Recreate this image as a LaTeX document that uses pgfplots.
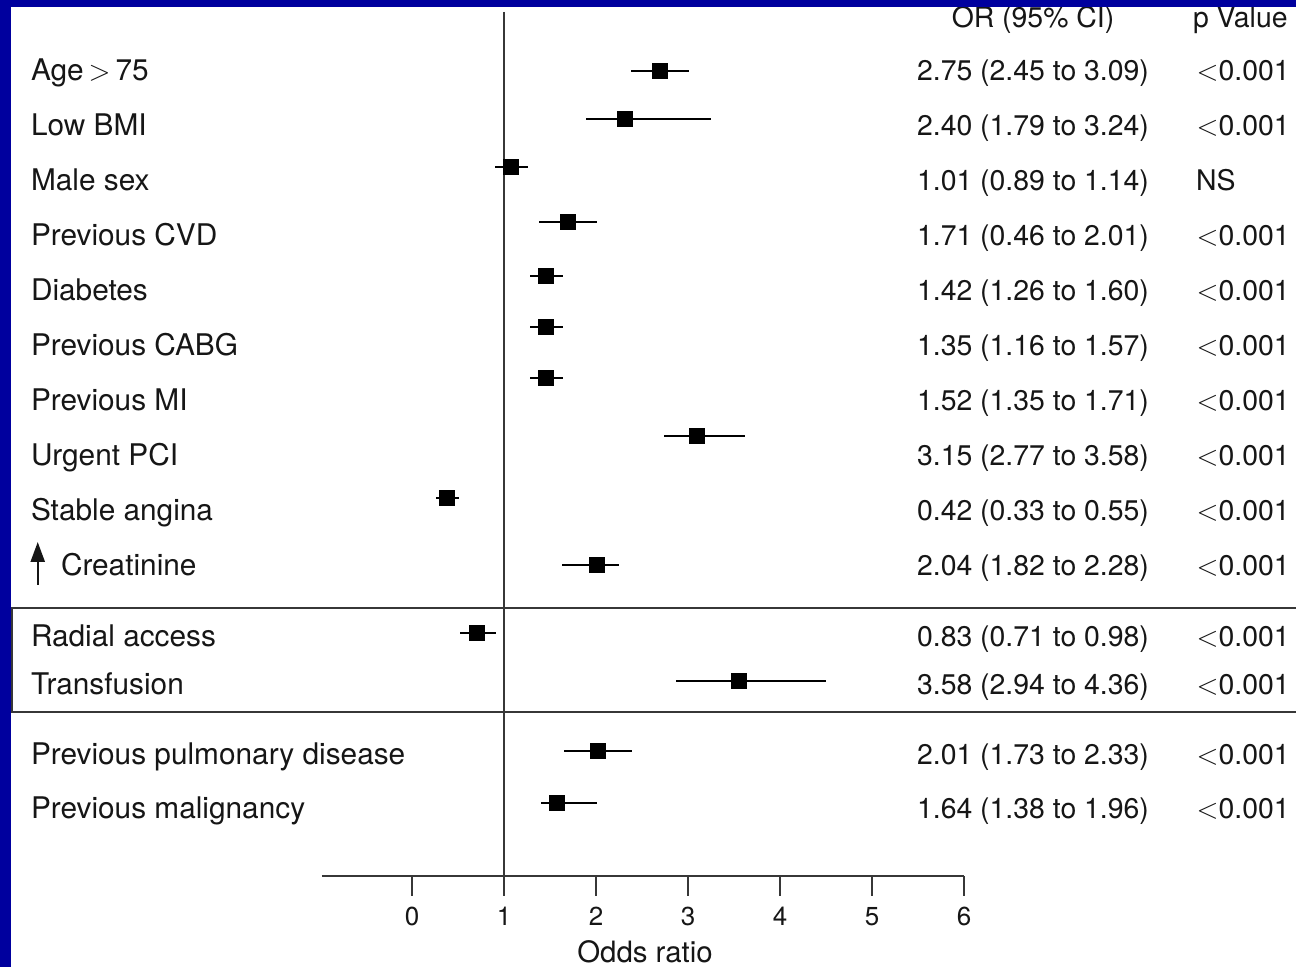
\documentclass[border=0pt]{standalone}
\usepackage{fontspec}
\setmainfont{TeX Gyre Heros}
\usepackage{pgfplots}
\usepackage{pgfplotstable}
\pgfplotsset{compat=1.18}
\usetikzlibrary{arrows.meta}
\definecolor{bgblue}{RGB}{0,0,158}
\definecolor{ink}{RGB}{22,22,22}
\definecolor{axisgray}{RGB}{55,55,55}
\newcommand{\lbl}{\fontsize{14.9}{17}\selectfont}
\newcommand{\num}{\fontsize{14.2}{17}\selectfont}
\newcommand{\tickf}{\fontsize{13}{15}\selectfont}

% x = odds ratio, y = minus row position, ep/em = CI half-widths
\pgfplotstableread{
x      y       ep     em
2.696  -71.0   0.315  0.316
2.315  -118.7  0.932  0.427
1.076  -166.7  0.181  0.174
1.692  -222.0  0.319  0.312
1.457  -275.7  0.188  0.174
1.457  -326.7  0.188  0.174
1.457  -377.7  0.188  0.174
3.094  -435.7  0.526  0.352
0.377  -498.3  0.137  0.116
2.014  -564.7  0.240  0.384
0.707  -633.0  0.202  0.189
3.554  -681.3  0.946  0.684
2.022  -751.0  0.373  0.373
1.576  -803.3  0.435  0.171
}\ordata

\begin{document}
\begin{tikzpicture}[txt/.style={inner sep=0pt, outer sep=0pt, text=ink}]
\useasboundingbox (-160.92pt,-45.5pt) rectangle (487.08pt,438pt);
\fill[bgblue] (-160.92pt,-45.5pt) rectangle (487.08pt,438pt);
\fill[white] (-155.42pt,-45.5pt) rectangle (487.08pt,434.5pt);
\begin{axis}[
  scale only axis,
  width=321.08pt, height=432pt,
  xmin=-0.98, xmax=6, ymin=-876, ymax=-12,
  axis x line*=bottom, axis y line=none,
  xtick={0,...,6}, tick align=outside, major tick length=10pt,
  axis line style={line width=1pt, axisgray},
  major tick style={line width=0.9pt, axisgray},
  xticklabel={\tickf\pgfmathprintnumber[assume math mode=true]{\tick}},
  x tick label style={text=ink, yshift=-2pt},
  clip=false,
]
% reference line at OR = 1
\addplot[line width=1pt, axisgray] coordinates {(1,-12) (1,-876)};
% group box lines
\addplot[line width=1pt, axisgray] coordinates {(9.62,-608.5) (-4.348,-608.5) (-4.348,-712) (9.62,-712)};
% estimates with CIs
\addplot[only marks, mark=square*, mark size=3.75pt, black,
  error bars/.cd, x dir=both, x explicit,
  error bar style={line width=1.1pt, black}, error mark=none]
  table[x=x, y=y, x error plus=ep, x error minus=em]{\ordata};

% headers
\node[txt, anchor=base, font=\num] at (axis cs:6.75,-28) {OR (95\% CI)};
\node[txt, anchor=base west, font=\num] at (axis cs:8.489,-28) {p Value};

% left labels
\node[txt, anchor=base west, font=\lbl] at (axis cs:-4.141,-81) {Age\kern2.5pt$>$\kern2.5pt75};
\node[txt, anchor=base west, font=\lbl] at (axis cs:-4.141,-136) {Low BMI};
\node[txt, anchor=base west, font=\lbl] at (axis cs:-4.141,-191) {Male sex};
\node[txt, anchor=base west, font=\lbl] at (axis cs:-4.141,-246) {Previous CVD};
\node[txt, anchor=base west, font=\lbl] at (axis cs:-4.141,-301) {Diabetes};
\node[txt, anchor=base west, font=\lbl] at (axis cs:-4.141,-356) {Previous CABG};
\node[txt, anchor=base west, font=\lbl] at (axis cs:-4.141,-411) {Previous MI};
\node[txt, anchor=base west, font=\lbl] at (axis cs:-4.141,-466) {Urgent PCI};
\node[txt, anchor=base west, font=\lbl] at (axis cs:-4.141,-521) {Stable angina};
\node[txt, anchor=base west, font=\lbl] at (axis cs:-3.815,-576) {Creatinine};
\draw[line width=1.2pt, ink, -{Triangle[width=7pt,length=10pt]}] (axis cs:-4.068,-585) -- (axis cs:-4.068,-542);
\node[txt, anchor=base west, font=\lbl] at (axis cs:-4.141,-647) {Radial access};
\node[txt, anchor=base west, font=\lbl] at (axis cs:-4.141,-695) {Transfusion};
\node[txt, anchor=base west, font=\lbl] at (axis cs:-4.141,-765) {Previous pulmonary disease};
\node[txt, anchor=base west, font=\lbl] at (axis cs:-4.141,-819) {Previous malignancy};

% OR column
\node[txt, anchor=base, font=\num] at (axis cs:6.75,-81) {2.75 (2.45 to 3.09)};
\node[txt, anchor=base, font=\num] at (axis cs:6.75,-136) {2.40 (1.79 to 3.24)};
\node[txt, anchor=base, font=\num] at (axis cs:6.75,-191) {1.01 (0.89 to 1.14)};
\node[txt, anchor=base, font=\num] at (axis cs:6.75,-246) {1.71 (0.46 to 2.01)};
\node[txt, anchor=base, font=\num] at (axis cs:6.75,-301) {1.42 (1.26 to 1.60)};
\node[txt, anchor=base, font=\num] at (axis cs:6.75,-356) {1.35 (1.16 to 1.57)};
\node[txt, anchor=base, font=\num] at (axis cs:6.75,-411) {1.52 (1.35 to 1.71)};
\node[txt, anchor=base, font=\num] at (axis cs:6.75,-466) {3.15 (2.77 to 3.58)};
\node[txt, anchor=base, font=\num] at (axis cs:6.75,-521) {0.42 (0.33 to 0.55)};
\node[txt, anchor=base, font=\num] at (axis cs:6.75,-576) {2.04 (1.82 to 2.28)};
\node[txt, anchor=base, font=\num] at (axis cs:6.75,-647) {0.83 (0.71 to 0.98)};
\node[txt, anchor=base, font=\num] at (axis cs:6.75,-695) {3.58 (2.94 to 4.36)};
\node[txt, anchor=base, font=\num] at (axis cs:6.75,-765) {2.01 (1.73 to 2.33)};
\node[txt, anchor=base, font=\num] at (axis cs:6.75,-819) {1.64 (1.38 to 1.96)};

% p value column
\node[txt, anchor=base west, font=\num] at (axis cs:8.529,-81) {$<$0.001};
\node[txt, anchor=base west, font=\num] at (axis cs:8.529,-136) {$<$0.001};
\node[txt, anchor=base west, font=\num] at (axis cs:8.522,-191) {NS};
\node[txt, anchor=base west, font=\num] at (axis cs:8.529,-246) {$<$0.001};
\node[txt, anchor=base west, font=\num] at (axis cs:8.529,-301) {$<$0.001};
\node[txt, anchor=base west, font=\num] at (axis cs:8.529,-356) {$<$0.001};
\node[txt, anchor=base west, font=\num] at (axis cs:8.529,-411) {$<$0.001};
\node[txt, anchor=base west, font=\num] at (axis cs:8.529,-466) {$<$0.001};
\node[txt, anchor=base west, font=\num] at (axis cs:8.529,-521) {$<$0.001};
\node[txt, anchor=base west, font=\num] at (axis cs:8.529,-576) {$<$0.001};
\node[txt, anchor=base west, font=\num] at (axis cs:8.529,-647) {$<$0.001};
\node[txt, anchor=base west, font=\num] at (axis cs:8.529,-695) {$<$0.001};
\node[txt, anchor=base west, font=\num] at (axis cs:8.529,-765) {$<$0.001};
\node[txt, anchor=base west, font=\num] at (axis cs:8.529,-819) {$<$0.001};

% axis title
\node[txt, anchor=base, font=\fontsize{14.7}{17}\selectfont] at (axis cs:2.533,-962.5) {Odds ratio};
\end{axis}
\fill[bgblue] (-160.92pt,434.5pt) rectangle (487.08pt,438pt);
\fill[bgblue] (-160.92pt,-45.5pt) rectangle (-155.42pt,438pt);
\end{tikzpicture}
\end{document}
